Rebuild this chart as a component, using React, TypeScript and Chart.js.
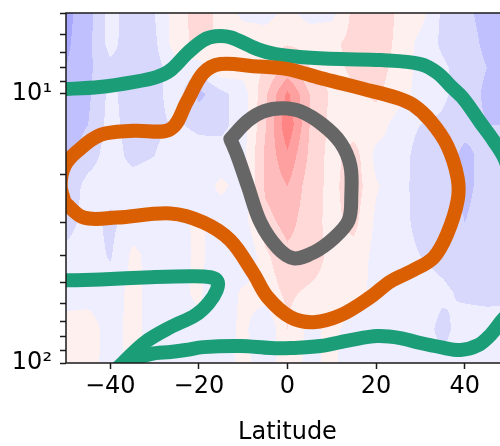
import React, { useEffect, useRef } from "react";
import { Chart, registerables } from "chart.js";

Chart.register(...registerables);

// ---- field (anomaly) grid: latitude columns x pressure rows ----
const lats = [-50, -45, -40, -35, -30, -25, -20, -15, -10, -5, 0, 5, 10, 15, 20, 25, 30, 35, 40, 45, 50];
const pressures = [5, 6.5, 8, 10, 13, 17, 22, 30, 40, 55, 75, 100];
const anomaly: number[][] = [
  [-3.3, -2.4, -0.6, -1.6, -1.0, 0.5, 1.5, 0.7, -0.3, -0.4, 0.3, -0.4, -0.3, 1.3, 2.0, 0.8, 0.4, -1.2, -1.8, -2.3, -2.5],
  [-3.2, -2.3, -0.6, -1.7, -1.2, 0.6, 1.3, 0.8, 0.8, 0.6, 0.9, 0.7, 0.8, 1.3, 1.8, 0.7, -0.3, -1.2, -1.6, -2.2, -2.3],
  [-3.0, -2.2, -1.3, -1.5, -1.4, -0.4, -0.6, 0.8, 0.5, 1.0, 2.3, 1.0, 0.7, 1.2, 1.5, 0.6, -0.3, -0.8, -1.5, -2.0, -2.2],
  [-2.8, -2.2, -0.7, -1.6, -1.3, -0.5, -2.3, -1.3, -0.5, 1.8, 4.2, 2.0, 0.8, 0.8, 1.2, 0.4, -0.3, -0.8, -1.5, -2.2, -2.3],
  [-2.6, -2.0, -0.6, -1.5, -1.2, -0.9, -1.2, -1.3, -0.5, 1.9, 4.8, 2.0, 0.7, 0.4, 0.5, -0.4, -1.0, -1.2, -1.6, -2.0, -2.0],
  [-2.2, -1.5, -0.5, -1.3, -1.0, -0.5, -0.6, -0.5, -0.3, 2.2, 3.8, 1.8, 0.6, 1.5, -0.3, -0.4, -1.5, -1.4, -2.3, -1.6, -1.7],
  [-1.8, -0.6, -0.5, -0.5, -0.4, -0.4, -0.5, 0.2, -0.4, 2.2, 3.0, 1.5, 0.7, 1.6, 0.1, -0.5, -1.5, -1.6, -2.2, -1.7, -1.6],
  [-1.5, -0.5, -1.3, -0.4, -0.3, -0.3, 0.2, -0.6, -0.5, 1.6, 2.4, 1.4, 0.7, 1.3, -0.2, -0.5, -1.4, -1.5, -2.0, -1.7, -1.6],
  [-0.6, -0.5, -1.1, 0.2, -0.3, -0.4, 0.2, -0.5, -1.3, 0.8, 1.7, 1.6, 0.7, 0.6, -0.3, -0.5, -1.0, -1.3, -1.6, -1.6, -1.5],
  [-0.4, -0.4, -0.5, 0.3, -0.4, -0.3, 0.2, -1.0, 0.3, 0.5, 1.2, 0.8, 0.6, 0.4, -0.3, -0.5, -0.6, -0.8, -1.2, -1.3, -1.2],
  [0.4, 0.5, -0.4, 0.3, -0.4, -0.4, -0.3, -0.6, 0.3, -1.0, 1.0, -0.3, 0.3, -0.5, -0.4, -0.4, -0.5, -1.3, -0.5, -0.5, -0.6],
  [0.4, 0.4, -0.4, 0.3, -0.4, -0.3, -0.3, -0.5, 0.3, -0.5, 0.6, -0.3, 0.3, -0.8, -0.4, -0.5, -0.5, -0.8, -0.5, -0.5, -0.5],
];
const levels = [-4, -3, -2, -1, 0, 1, 2, 3, 4, 5];

// ---- contour lines (latitude, pressure) ----
const greenTop: [number, number][] = [
  [-51.7, 9.58], [-49.9, 9.58], [-42.4, 9.42], [-34.8, 9.03], [-29.6, 8.65], [-26.4, 8.15], [-22.6, 7.05],
  [-19.0, 6.31], [-16.3, 6.1], [-12.9, 6.15], [-6.8, 6.81], [-2.7, 7.11], [3.6, 7.3], [12.0, 7.42], [21.0, 7.48],
  [30.0, 7.74], [33.9, 8.36], [36.8, 9.34], [39.7, 10.4], [43.6, 12.8], [46.5, 14.9], [49.2, 17.7], [51.5, 24.9],
  [51.5, 58.4], [48.1, 70.5], [45.8, 78.7], [43.1, 85.8], [39.1, 89.5], [34.5, 87.3], [30.0, 84.3], [25.5, 80.8],
  [20.3, 79.4], [14.2, 82.2], [7.4, 86.5], [0.7, 88.0], [-3.8, 88.0], [-10.6, 86.5], [-19.0, 87.3], [-23.0, 89.5],
  [-26.4, 91.0], [-30.9, 92.6], [-34.3, 96.7], [-37.2, 104.4], [-39.5, 111.7],
];
const greenLow: [number, number][] = [
  [-41.1, 115.6], [-37.2, 100], [-32.1, 83.6], [-26.4, 73.6], [-20.8, 66.4], [-17.8, 59.9], [-16.0, 53.7],
  [-15.8, 49.7], [-17.4, 48.0], [-21.9, 47.6], [-30.9, 48.0], [-42.2, 48.9], [-49.9, 49.3], [-52.4, 49.3],
];
const orangeLoop: [number, number][] = [
  [-50.3, 25.3], [-51.2, 21.9], [-50.3, 18.5], [-47.4, 16.3], [-42.2, 14.2], [-34.8, 13.7], [-26.4, 13.5],
  [-22.6, 10.6], [-19.0, 8.36], [-15.1, 7.74], [-7.7, 7.88], [0, 8.08], [7.4, 8.72], [12.0, 9.11], [17.2, 9.58],
  [24.8, 10.35], [28.4, 11.0], [32.3, 12.6], [36.1, 15.6], [38.4, 20.5], [38.4, 24.9], [36.1, 33.0], [33.0, 40.5],
  [28.4, 45.2], [23.3, 49.7], [18.7, 56.9], [12.0, 66.4], [5.9, 70.5], [0.7, 67.6], [-4.5, 56.9], [-7.7, 46.4],
  [-12.9, 35.0], [-19.0, 30.0], [-26.4, 27.8], [-38.6, 28.8], [-46.0, 28.8], [-50.3, 25.3],
];
const grayLoop: [number, number][] = [
  [-12.9, 14.7], [-9.0, 12.6], [-5.4, 11.6], [-1.1, 11.3], [2.9, 11.6], [7.9, 13.0], [12.0, 15.2], [14.2, 18.5],
  [14.4, 23.9], [13.8, 29.5], [10.4, 34.4], [5.9, 38.8], [1.4, 40.8], [-2.3, 37.2], [-6.1, 30.0], [-9.0, 21.9],
  [-11.3, 17.0], [-12.9, 14.7],
];

// ---- axes ----
const xTicks = [-40, -20, 0, 20, 40];
const yTicks = [5, 6, 7, 8, 9, 10, 20, 30, 40, 50, 60, 70, 80, 90, 100];
const yTickLabels: Record<number, string> = { 10: "10\u00b9", 100: "10\u00b2" };

// style
const levelColors = ["#a8a8ff", "#c0c0fe", "#d8d8fd", "#eeeefe", "#fff0f0", "#ffd8d8", "#ffbcbc", "#ffa0a0", "#ff8484"];
const FONT = "'DejaVu Sans', sans-serif";

function locate(arr: number[], v: number): [number, number] {
  if (v <= arr[0]) return [0, 0];
  if (v >= arr[arr.length - 1]) return [arr.length - 2, 1];
  let i = 0;
  while (arr[i + 1] < v) i++;
  return [i, (v - arr[i]) / (arr[i + 1] - arr[i])];
}

const fieldPlugin = {
  id: "field",
  beforeDraw(chart: any) {
    const { ctx, chartArea: a, scales } = chart;
    const xs = scales.x;
    const ys = scales.y;
    const left = Math.floor(a.left);
    const top = Math.floor(a.top);
    const w = Math.ceil(a.right) - left;
    const h = Math.ceil(a.bottom) - top;
    const off = document.createElement("canvas");
    off.width = w;
    off.height = h;
    const octx = off.getContext("2d")!;
    const img = octx.createImageData(w, h);
    const logP = pressures.map((p) => Math.log10(p));
    const rgb = levelColors.map((c) => [
      parseInt(c.slice(1, 3), 16),
      parseInt(c.slice(3, 5), 16),
      parseInt(c.slice(5, 7), 16),
    ]);
    const cols: [number, number][] = [];
    for (let i = 0; i < w; i++) cols.push(locate(lats, xs.getValueForPixel(left + i + 0.5)));
    for (let j = 0; j < h; j++) {
      const p = ys.getValueForPixel(top + j + 0.5);
      const [r, t] = locate(logP, Math.log10(p));
      const r0 = anomaly[r];
      const r1 = anomaly[r + 1];
      for (let i = 0; i < w; i++) {
        const [c, s] = cols[i];
        const v =
          (1 - t) * ((1 - s) * r0[c] + s * r0[c + 1]) + t * ((1 - s) * r1[c] + s * r1[c + 1]);
        let k = Math.floor(v) - levels[0];
        if (k < 0) k = 0;
        if (k > rgb.length - 1) k = rgb.length - 1;
        const o = (j * w + i) * 4;
        img.data[o] = rgb[k][0];
        img.data[o + 1] = rgb[k][1];
        img.data[o + 2] = rgb[k][2];
        img.data[o + 3] = 255;
      }
    }
    octx.putImageData(img, 0, 0);
    ctx.save();
    ctx.drawImage(off, left, top);
    ctx.restore();
  },
};

const spinePlugin = {
  id: "spines",
  afterDraw(chart: any) {
    const { ctx, chartArea: a } = chart;
    ctx.save();
    ctx.strokeStyle = "#1a1a1a";
    ctx.lineWidth = 1.5;
    ctx.beginPath();
    ctx.moveTo(a.left, a.bottom);
    ctx.lineTo(a.left, a.top);
    ctx.lineTo(a.right, a.top);
    ctx.lineTo(a.right, a.bottom);
    ctx.closePath();
    ctx.stroke();
    ctx.restore();
  },
};

function toPoints(arr: [number, number][]) {
  return arr.map(([x, y]) => ({ x, y }));
}

function lineSet(arr: [number, number][], color: string) {
  return {
    data: toPoints(arr),
    showLine: true,
    borderColor: color,
    borderWidth: 14,
    pointRadius: 0,
    tension: 0.35,
    fill: false,
    clip: 0,
  };
}

export default function App() {
  const ref = useRef<HTMLCanvasElement | null>(null);
  useEffect(() => {
    if (!ref.current) return;
    const chart = new Chart(ref.current, {
      type: "scatter",
      data: {
        datasets: [
          lineSet(grayLoop, "#666666"),
          lineSet(orangeLoop, "#d95f02"),
          lineSet(greenTop, "#1b9e77"),
          lineSet(greenLow, "#1b9e77"),
        ] as any,
      },
      options: {
        animation: false,
        responsive: false,
        devicePixelRatio: 1,
        events: [],
        layout: { padding: { top: 13, right: 11, left: 0, bottom: 0 } },
        elements: { line: { capBezierPoints: false, borderJoinStyle: "round", borderCapStyle: "round" } },
        plugins: { legend: { display: false }, tooltip: { enabled: false } },
        scales: {
          x: {
            type: "linear",
            position: "bottom",
            min: -50,
            max: 50,
            afterBuildTicks: (s: any) => {
              s.ticks = xTicks.map((v) => ({ value: v }));
            },
            afterFit: (s: any) => {
              s.height = 83;
              s.paddingLeft = 0;
              s.paddingRight = 0;
            },
            grid: { drawOnChartArea: false, drawTicks: true, tickLength: 6, tickWidth: 1.5, tickColor: "#1a1a1a" },
            border: { display: false },
            ticks: {
              autoSkip: false,
              maxRotation: 0,
              padding: 3,
              color: "#000",
              font: { family: FONT, size: 24 },
              callback: (v: any) => (Number(v) < 0 ? "\u2212" + Math.abs(Number(v)) : String(v)),
            },
            title: {
              display: true,
              text: "Latitude",
              color: "#000",
              font: { family: FONT, size: 24 },
              padding: { top: 0, bottom: -1 },
            },
          },
          y: {
            type: "logarithmic",
            position: "left",
            reverse: true,
            min: 5,
            max: 100,
            afterBuildTicks: (s: any) => {
              s.ticks = yTicks.map((v) => ({ value: v, major: v in yTickLabels }));
            },
            afterFit: (s: any) => {
              s.width = 66;
              s.paddingTop = 0;
              s.paddingBottom = 0;
            },
            grid: { drawOnChartArea: false, drawTicks: true, tickLength: 6, tickWidth: 1.5, tickColor: "#1a1a1a" },
            border: { display: false },
            ticks: {
              autoSkip: false,
              padding: 8,
              color: "#000",
              font: { family: FONT, size: 24 },
              callback: (v: any) => yTickLabels[Number(v)] ?? "",
            },
          },
        },
      },
      plugins: [fieldPlugin, spinePlugin],
    } as any);
    return () => chart.destroy();
  }, []);
  return (
    <div
      style={{
        position: "fixed",
        left: 0,
        top: 0,
        width: 500,
        height: 446,
        overflow: "hidden",
        background: "#fff",
      }}
    >
      <canvas ref={ref} width={520} height={446} style={{ display: "block" }} />
    </div>
  );
}
